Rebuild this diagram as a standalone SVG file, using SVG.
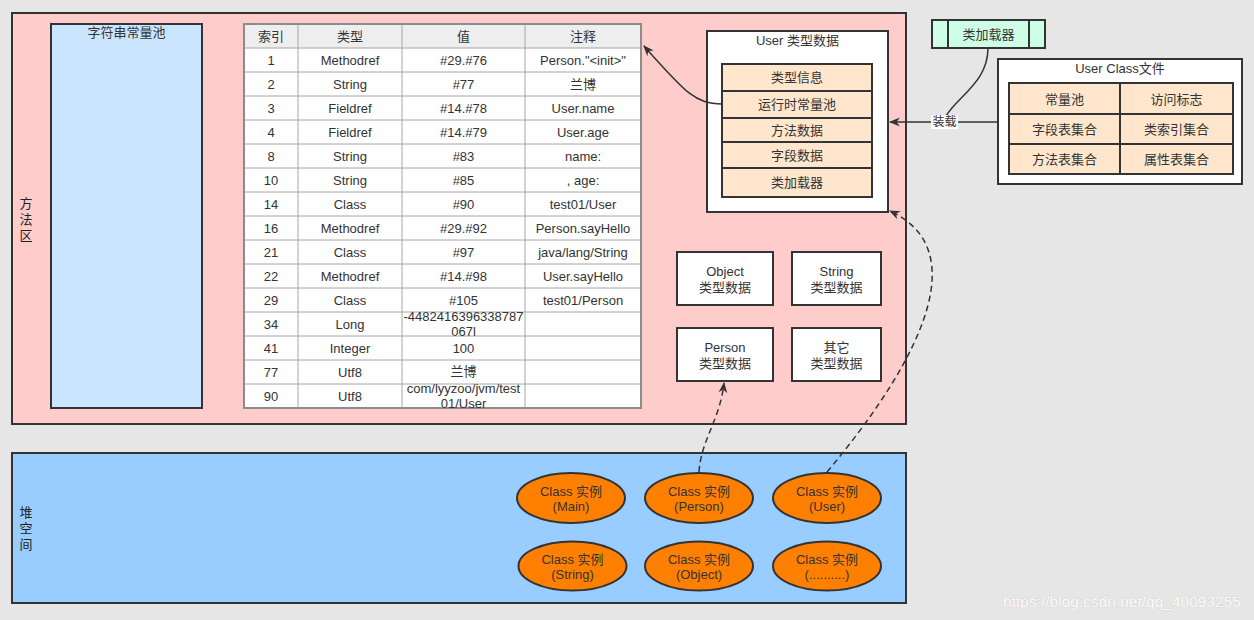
<svg xmlns="http://www.w3.org/2000/svg" width="1254" height="620" viewBox="0 0 1254 620">
<style>
text{font-family:"Liberation Sans","Noto Sans CJK SC",sans-serif;font-size:13px;fill:#333;text-anchor:middle;dominant-baseline:central}
.box{stroke:#333;stroke-width:2}
.cell{fill:#ffe6cc;stroke:#333;stroke-width:2}
.grid{stroke:#a6a6a6;stroke-width:1;fill:none}
.conn{fill:none;stroke:#333;stroke-width:1.5}
.dash{stroke-dasharray:6 4}
.side{font-size:13px;fill:#222}
</style>
<defs>
<marker id="arr" viewBox="0 0 10 10" refX="9" refY="5" markerWidth="11" markerHeight="11" markerUnits="userSpaceOnUse" orient="auto">
<path d="M0,1 L10,5 L0,9 L3,5 z" fill="#333"/>
</marker>
</defs>
<rect x="0" y="0" width="1254" height="620" fill="#e6e6e6"/>

<g id="method-area">
<rect class="box" x="12" y="13" width="894" height="411" fill="#ffcccc"/>
<text class="side" x="26" y="203">方</text>
<text class="side" x="26" y="219">法</text>
<text class="side" x="26" y="235">区</text>
</g>

<g id="string-pool">
<rect class="box" x="51" y="24" width="151" height="384" fill="#cce5ff"/>
<text x="126.5" y="32">字符串常量池</text>
</g>

<g id="constant-table">
<rect x="244" y="24" width="397" height="384" fill="#ffffff"/>
<rect x="244" y="24" width="397" height="24" fill="#eeeeee"/>
<g class="grid">
<path d="M244,48H641M244,72H641M244,96H641M244,120H641M244,144H641M244,168H641M244,192H641M244,216H641M244,240H641M244,264H641M244,288H641M244,312H641M244,336H641M244,360H641M244,384H641"/>
<path d="M298,24V408M402,24V408M525,24V408"/>
</g>
<rect x="244" y="24" width="397" height="384" fill="none" stroke="#8c8c8c" stroke-width="2"/>
<g>
<text x="271" y="36">索引</text><text x="350" y="36">类型</text><text x="463.5" y="36">值</text><text x="583" y="36">注释</text>
<text x="271" y="60">1</text><text x="350" y="60">Methodref</text><text x="463.5" y="60">#29.#76</text><text x="583" y="60">Person."&lt;init&gt;"</text>
<text x="271" y="84">2</text><text x="350" y="84">String</text><text x="463.5" y="84">#77</text><text x="583" y="84">兰博</text>
<text x="271" y="108">3</text><text x="350" y="108">Fieldref</text><text x="463.5" y="108">#14.#78</text><text x="583" y="108">User.name</text>
<text x="271" y="132">4</text><text x="350" y="132">Fieldref</text><text x="463.5" y="132">#14.#79</text><text x="583" y="132">User.age</text>
<text x="271" y="156">8</text><text x="350" y="156">String</text><text x="463.5" y="156">#83</text><text x="583" y="156">name:</text>
<text x="271" y="180">10</text><text x="350" y="180">String</text><text x="463.5" y="180">#85</text><text x="583" y="180">, age:</text>
<text x="271" y="204">14</text><text x="350" y="204">Class</text><text x="463.5" y="204">#90</text><text x="583" y="204">test01/User</text>
<text x="271" y="228">16</text><text x="350" y="228">Methodref</text><text x="463.5" y="228">#29.#92</text><text x="583" y="228">Person.sayHello</text>
<text x="271" y="252">21</text><text x="350" y="252">Class</text><text x="463.5" y="252">#97</text><text x="583" y="252">java/lang/String</text>
<text x="271" y="276">22</text><text x="350" y="276">Methodref</text><text x="463.5" y="276">#14.#98</text><text x="583" y="276">User.sayHello</text>
<text x="271" y="300">29</text><text x="350" y="300">Class</text><text x="463.5" y="300">#105</text><text x="583" y="300">test01/Person</text>
<text x="271" y="324">34</text><text x="350" y="324">Long</text><text x="463.5" y="316.5">-4482416396338787</text><text x="463.5" y="331">067l</text>
<text x="271" y="348">41</text><text x="350" y="348">Integer</text><text x="463.5" y="348">100</text>
<text x="271" y="372">77</text><text x="350" y="372">Utf8</text><text x="463.5" y="371">兰博</text>
<text x="271" y="396">90</text><text x="350" y="396">Utf8</text><text x="463.5" y="388.5">com/lyyzoo/jvm/test</text><text x="463.5" y="403">01/User</text>
</g>
</g>

<g id="user-type-data">
<rect class="box" x="707" y="31" width="181" height="181" fill="#ffffff"/>
<text x="797.5" y="40">User 类型数据</text>
<rect class="cell" x="722" y="64" width="150" height="27"/>
<rect class="cell" x="722" y="91" width="150" height="27"/>
<rect class="cell" x="722" y="118" width="150" height="24"/>
<rect class="cell" x="722" y="142" width="150" height="26"/>
<rect class="cell" x="722" y="168" width="150" height="29"/>
<text x="797" y="77.5">类型信息</text>
<text x="797" y="104.5">运行时常量池</text>
<text x="797" y="130">方法数据</text>
<text x="797" y="155">字段数据</text>
<text x="797" y="182.5">类加载器</text>
</g>

<g id="class-loader">
<rect class="box" x="932" y="20" width="113" height="28" fill="#ccffe6"/>
<path d="M948,20V48M1029,20V48" stroke="#333" stroke-width="2"/>
<text x="988.5" y="34">类加载器</text>
</g>

<g id="user-class-file">
<rect class="box" x="998" y="59" width="244" height="125" fill="#ffffff"/>
<text x="1120" y="68">User Class文件</text>
<rect class="cell" x="1009" y="83" width="111" height="31"/>
<rect class="cell" x="1120" y="83" width="113" height="31"/>
<rect class="cell" x="1009" y="114" width="111" height="30"/>
<rect class="cell" x="1120" y="114" width="113" height="30"/>
<rect class="cell" x="1009" y="144" width="111" height="30"/>
<rect class="cell" x="1120" y="144" width="113" height="30"/>
<text x="1064.5" y="99">常量池</text>
<text x="1176.5" y="99">访问标志</text>
<text x="1064.5" y="129">字段表集合</text>
<text x="1176.5" y="129">类索引集合</text>
<text x="1064.5" y="159">方法表集合</text>
<text x="1176.5" y="159">属性表集合</text>
</g>

<g id="object-type">
<rect class="box" x="677" y="252" width="96" height="53" fill="#ffffff"/>
<text x="725" y="271">Object</text><text x="725" y="287">类型数据</text>
</g>
<g id="string-type">
<rect class="box" x="792" y="252" width="89" height="53" fill="#ffffff"/>
<text x="836.5" y="271">String</text><text x="836.5" y="287">类型数据</text>
</g>
<g id="person-type">
<rect class="box" x="677" y="328" width="96" height="53" fill="#ffffff"/>
<text x="725" y="347">Person</text><text x="725" y="363">类型数据</text>
</g>
<g id="other-type">
<rect class="box" x="792" y="328" width="89" height="53" fill="#ffffff"/>
<text x="836.5" y="347">其它</text><text x="836.5" y="363">类型数据</text>
</g>

<g id="heap">
<rect class="box" x="12" y="453" width="894" height="150" fill="#99ccff"/>
<text class="side" x="26" y="512">堆</text>
<text class="side" x="26" y="528">空</text>
<text class="side" x="26" y="544">间</text>
</g>

<g id="inst-main"><ellipse class="box" cx="571" cy="498" rx="54" ry="25" fill="#ff8000"/><text x="571" y="491">Class 实例</text><text x="571" y="506">(Main)</text></g>
<g id="inst-person"><ellipse class="box" cx="699" cy="498" rx="54" ry="25" fill="#ff8000"/><text x="699" y="491">Class 实例</text><text x="699" y="506">(Person)</text></g>
<g id="inst-user"><ellipse class="box" cx="827" cy="498" rx="54" ry="25" fill="#ff8000"/><text x="827" y="491">Class 实例</text><text x="827" y="506">(User)</text></g>
<g id="inst-string"><ellipse class="box" cx="572.5" cy="566" rx="54" ry="24.5" fill="#ff8000"/><text x="572.5" y="559">Class 实例</text><text x="572.5" y="574">(String)</text></g>
<g id="inst-object"><ellipse class="box" cx="699" cy="566" rx="54" ry="24.5" fill="#ff8000"/><text x="699" y="559">Class 实例</text><text x="699" y="574">(Object)</text></g>
<g id="inst-other"><ellipse class="box" cx="827" cy="566" rx="54" ry="24.5" fill="#ff8000"/><text x="827" y="559">Class 实例</text><text x="827" y="574">(..........)</text></g>

<g id="connectors">
<path class="conn" d="M722,104 C695,104 685,92 644,46" marker-end="url(#arr)"/>
<path class="conn" d="M998,122 H890" marker-end="url(#arr)"/>
<path class="conn" d="M988,48 C988,82 958,96 946,116"/>
<rect x="931" y="115" width="27" height="14" fill="#ffffff"/>
<text x="944.5" y="122" style="font-size:12px">装载</text>
<path class="conn dash" d="M699,472 C701,440 720,420 724,383" marker-end="url(#arr)"/>
<path class="conn dash" d="M827,472 C900,385 985,255 890,211" marker-end="url(#arr)"/>
</g>

<text x="1122" y="601" style="font-family:'Liberation Sans',Arial,sans-serif;font-size:15.5px;fill:#fbfbfb;stroke:#cccccc;stroke-width:0.6;paint-order:stroke">https://blog.csdn.net/qq_40093255</text>
</svg>
